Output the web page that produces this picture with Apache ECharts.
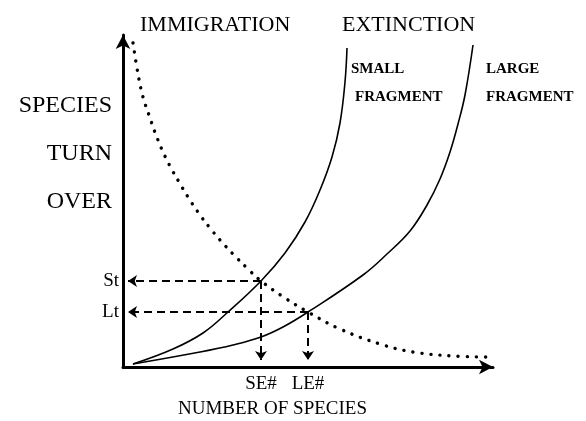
<!DOCTYPE html>
<html>
<head>
<meta charset="utf-8">
<script src="https://cdn.jsdelivr.net/npm/echarts@6/dist/echarts.min.js"></script>
<style>
  html, body { margin: 0; padding: 0; background: #fff; }
  #chart { width: 586px; height: 421px; }
</style>
</head>
<body>
<div id="chart"></div>
<script>
// 数据：单位为任意的"物种数 / 周转率"
const immigration = [
  [10, 324], [15, 293], [20, 270], [27, 249], [33, 232], [40, 215], [48, 199],
  [56, 185], [65, 170], [77, 152], [87, 139], [97, 127], [110, 113], [124, 99],
  [138, 86], [162, 69], [185, 55], [217, 38], [257, 23], [290, 15], [330, 11], [365, 10]
];
const extinctionSmall = [
  [10, 3], [50, 18], [80, 34], [105, 55], [138, 86], [162, 114], [182, 145],
  [197, 177], [209, 210], [217, 244], [222, 285], [224, 319]
];
const extinctionLarge = [
  [10, 3], [77, 15], [110, 22], [138, 30], [160, 40], [185, 55], [240, 92],
  [264, 113], [287, 136], [304, 162], [317, 188], [327, 215], [335, 243],
  [342, 272], [350, 322]
];
// 平衡点（小片段 / 大片段）
const eqSmall = [138, 86];
const eqLarge = [185, 55];
// 坐标轴刻度
const xTickValues = [eqSmall[0], eqLarge[0]];
const xTickLabels = ['SE#', 'LE#'];
const yTickValues = [eqLarge[1], eqSmall[1]];
const yTickLabels = ['Lt', 'St'];

const serif = '"Liberation Serif", "DejaVu Serif", serif';
const chart = echarts.init(document.getElementById('chart'));

const dashStyle = { color: '#000', width: 2, type: [8, 5] };
const arrowLine = (from, to) => [{ coord: from }, { coord: to }];

const option = {
  backgroundColor: '#fff',
  animation: false,
  grid: { left: 123, right: 93, top: 35, bottom: 54 },
  xAxis: {
    type: 'value',
    min: 0,
    max: 370,
    splitLine: { show: false },
    axisTick: { show: false },
    axisLine: {
      lineStyle: { color: '#000', width: 3 },
      symbol: ['none', 'arrow'],
      symbolSize: [11, 14]
    },
    axisLabel: {
      customValues: xTickValues,
      formatter: v => xTickLabels[xTickValues.indexOf(v)] || '',
      color: '#000',
      fontFamily: serif,
      fontSize: 19,
      margin: 8
    }
  },
  yAxis: {
    type: 'value',
    min: 0,
    max: 332,
    splitLine: { show: false },
    axisTick: { show: false },
    axisLine: {
      lineStyle: { color: '#000', width: 3 },
      symbol: ['none', 'arrow'],
      symbolSize: [11, 14]
    },
    axisLabel: {
      customValues: yTickValues,
      formatter: v => yTickLabels[yTickValues.indexOf(v)] || '',
      color: '#000',
      fontFamily: serif,
      fontSize: 19,
      margin: 4
    }
  },
  graphic: [
    { type: 'text', left: 140, top: 14, style: { text: 'IMMIGRATION', font: '22px ' + serif, fill: '#000' } },
    { type: 'text', left: 342, top: 14, style: { text: 'EXTINCTION', font: '22px ' + serif, fill: '#000' } },
    { type: 'text', left: 351, top: 62, style: { text: 'SMALL', font: 'bold 15px ' + serif, fill: '#000' } },
    { type: 'text', left: 355, top: 90, style: { text: 'FRAGMENT', font: 'bold 15px ' + serif, fill: '#000' } },
    { type: 'text', left: 486, top: 62, style: { text: 'LARGE', font: 'bold 15px ' + serif, fill: '#000' } },
    { type: 'text', left: 486, top: 90, style: { text: 'FRAGMENT', font: 'bold 15px ' + serif, fill: '#000' } },
    { type: 'text', right: 474, top: 94, style: { text: 'SPECIES', font: '24px ' + serif, fill: '#000', align: 'right' } },
    { type: 'text', right: 474, top: 142, style: { text: 'TURN', font: '24px ' + serif, fill: '#000', align: 'right' } },
    { type: 'text', right: 474, top: 190, style: { text: 'OVER', font: '24px ' + serif, fill: '#000', align: 'right' } },
    { type: 'text', left: 178, top: 400, style: { text: 'NUMBER OF SPECIES', font: '19px ' + serif, fill: '#000' } }
  ],
  series: [
    {
      name: 'Immigration',
      type: 'line',
      data: immigration,
      smooth: 0.4,
      showSymbol: false,
      lineStyle: { color: '#000', width: 3.4, type: [0.1, 9], cap: 'round' },
      markLine: {
        silent: true,
        symbol: ['none', 'arrow'],
        symbolSize: [9, 9],
        label: { show: false },
        lineStyle: dashStyle,
        data: [
          arrowLine(eqSmall, [5, eqSmall[1]]),
          arrowLine(eqSmall, [eqSmall[0], 7]),
          arrowLine(eqLarge, [5, eqLarge[1]]),
          arrowLine(eqLarge, [eqLarge[0], 7])
        ]
      }
    },
    {
      name: 'Small fragment',
      type: 'line',
      data: extinctionSmall,
      smooth: 0.4,
      showSymbol: false,
      lineStyle: { color: '#000', width: 1.6 }
    },
    {
      name: 'Large fragment',
      type: 'line',
      data: extinctionLarge,
      smooth: 0.4,
      showSymbol: false,
      lineStyle: { color: '#000', width: 1.6 }
    }
  ]
};
chart.setOption(option);
</script>
</body>
</html>
